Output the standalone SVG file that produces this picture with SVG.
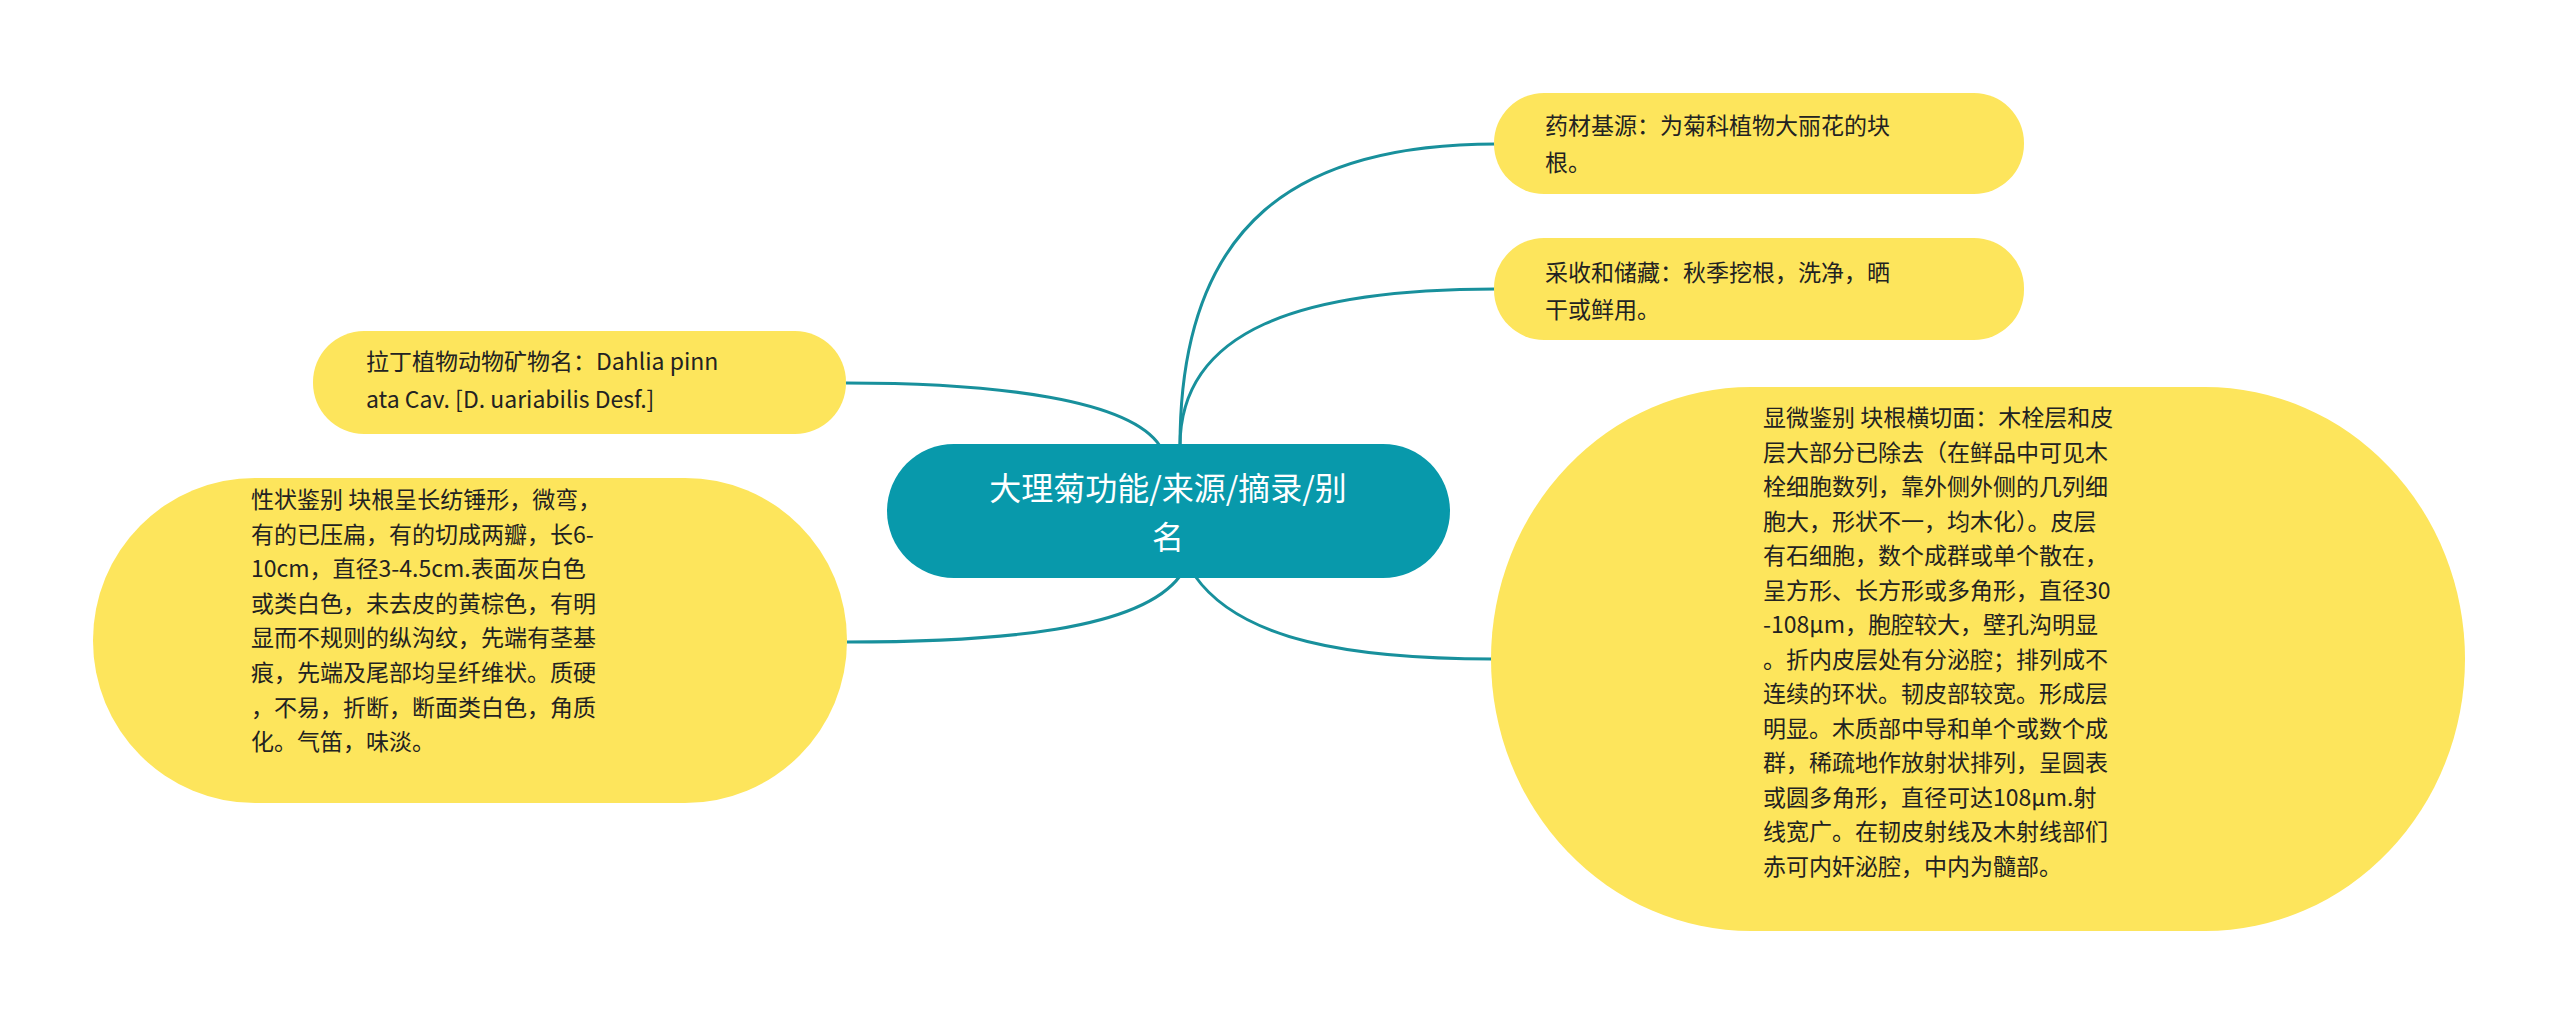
<svg xmlns="http://www.w3.org/2000/svg" width="2560" height="1025" viewBox="0 0 2560 1025">
<style>
.n{fill:#fde55c}
.t{font-family:"Noto Sans CJK SC","Liberation Sans",sans-serif;font-size:23px;fill:#222}
.c{fill:none;stroke:#18909c;stroke-width:3}
</style>
<rect width="2560" height="1025" fill="#fff"/>
<g id="connectors">
<path class="c" d="M1180,446 C1180,220 1300,144 1496,144"/>
<path class="c" d="M1180,446 C1180,330 1300,289 1496,289"/>
<path class="c" d="M1160,446 C1130,400 1000,383 846,383"/>
<path class="c" d="M1180,576 C1140,630 1000,642 847,642"/>
<path class="c" d="M1195,576 C1240,640 1350,659 1493,659"/>
</g>
<g id="center">
<rect x="887" y="444" width="563" height="134" rx="67" fill="#0899ab"/>
<text x="1168" y="500" text-anchor="middle" font-family="Noto Sans CJK SC,sans-serif" font-size="32" fill="#fff">大理菊功能/来源/摘录/别</text>
<text x="1168" y="549" text-anchor="middle" font-family="Noto Sans CJK SC,sans-serif" font-size="32" fill="#fff">名</text>
</g>
<g id="n1">
<rect class="n" x="1494" y="93" width="530" height="101" rx="50"/>
<text class="t" x="1545" y="134">药材基源：为菊科植物大丽花的块</text>
<text class="t" x="1545" y="171">根。</text>
</g>
<g id="n2">
<rect class="n" x="1494" y="238" width="530" height="102" rx="50"/>
<text class="t" x="1545" y="281">采收和储藏：秋季挖根，洗净，晒</text>
<text class="t" x="1545" y="318">干或鲜用。</text>
</g>
<g id="n3">
<rect class="n" x="1491" y="387" width="974" height="544" rx="260" ry="272"/>
<text class="t" x="1763">
<tspan x="1763" y="426">显微鉴别 块根横切面：木栓层和皮</tspan>
<tspan x="1763" y="460.5">层大部分已除去（在鲜品中可见木</tspan>
<tspan x="1763" y="495">栓细胞数列，靠外侧外侧的几列细</tspan>
<tspan x="1763" y="529.5">胞大，形状不一，均木化）。皮层</tspan>
<tspan x="1763" y="564">有石细胞，数个成群或单个散在，</tspan>
<tspan x="1763" y="598.5">呈方形、长方形或多角形，直径30</tspan>
<tspan x="1763" y="633">-108μm，胞腔较大，壁孔沟明显</tspan>
<tspan x="1763" y="667.5">。折内皮层处有分泌腔；排列成不</tspan>
<tspan x="1763" y="702">连续的环状。韧皮部较宽。形成层</tspan>
<tspan x="1763" y="736.5">明显。木质部中导和单个或数个成</tspan>
<tspan x="1763" y="771">群，稀疏地作放射状排列，呈圆表</tspan>
<tspan x="1763" y="805.5">或圆多角形，直径可达108μm.射</tspan>
<tspan x="1763" y="840">线宽广。在韧皮射线及木射线部们</tspan>
<tspan x="1763" y="874.5">赤可内奸泌腔，中内为髓部。</tspan>
</text>
</g>
<g id="n4">
<rect class="n" x="313" y="331" width="533" height="103" rx="51"/>
<text class="t" x="366" y="370">拉丁植物动物矿物名：Dahlia pinn</text>
<text class="t" x="366" y="408">ata Cav. [D. uariabilis Desf.]</text>
</g>
<g id="n5">
<rect class="n" x="93" y="478" width="754" height="325" rx="162"/>
<text class="t">
<tspan x="251" y="508">性状鉴别 块根呈长纺锤形，微弯，</tspan>
<tspan x="251" y="542.6">有的已压扁，有的切成两瓣，长6-</tspan>
<tspan x="251" y="577.2">10cm，直径3-4.5cm.表面灰白色</tspan>
<tspan x="251" y="611.8">或类白色，未去皮的黄棕色，有明</tspan>
<tspan x="251" y="646.4">显而不规则的纵沟纹，先端有茎基</tspan>
<tspan x="251" y="681">痕，先端及尾部均呈纤维状。质硬</tspan>
<tspan x="251" y="715.6">，不易，折断，断面类白色，角质</tspan>
<tspan x="251" y="750.2">化。气笛，味淡。</tspan>
</text>
</g>
</svg>
